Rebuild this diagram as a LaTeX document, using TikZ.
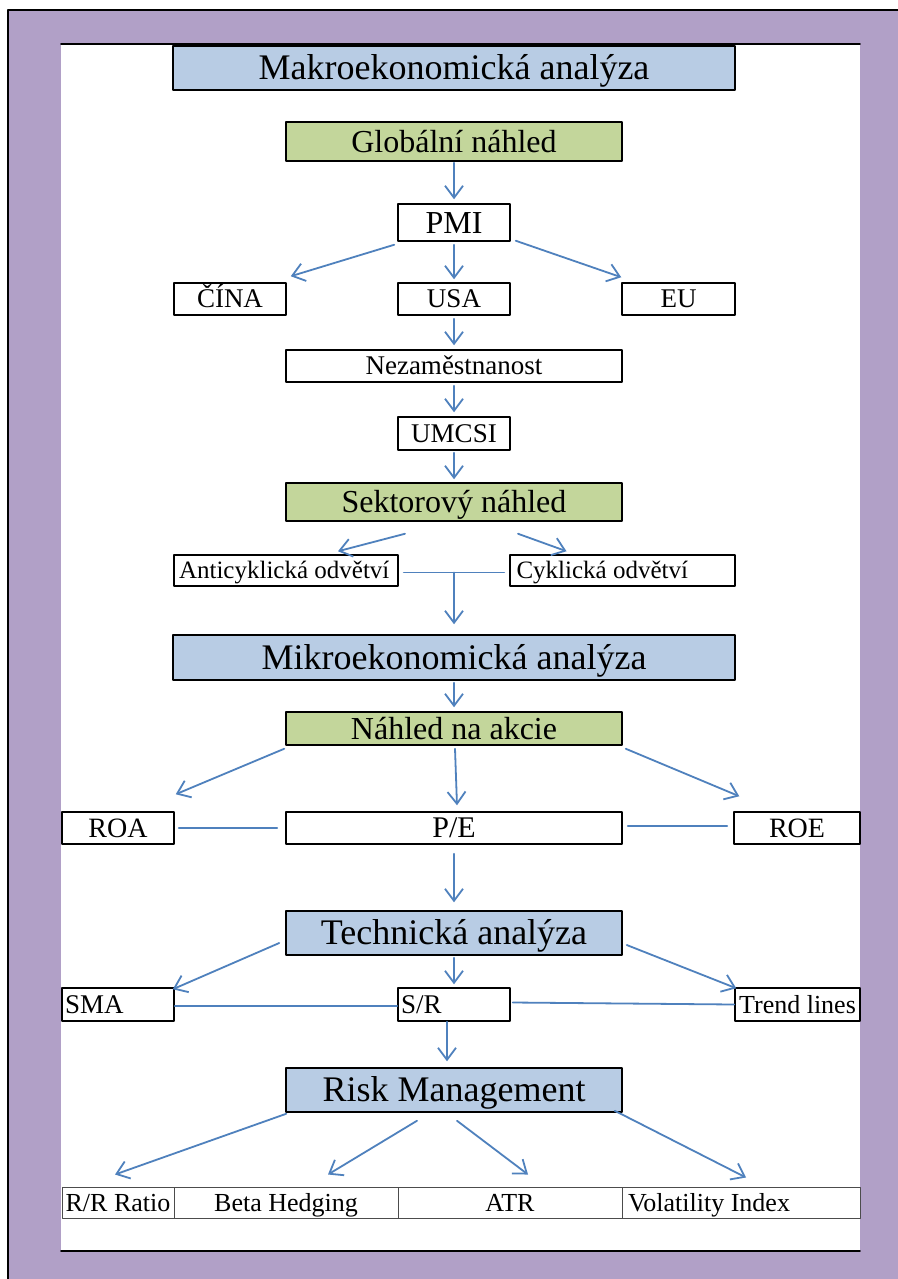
\documentclass[tikz,border=0pt]{standalone}
\usepackage{fontspec}
\setmainfont{Liberation Serif}
\usetikzlibrary{arrows.meta,calc}
\definecolor{framepurple}{HTML}{B1A0C7}
\definecolor{headblue}{HTML}{B8CCE4}
\definecolor{subgreen}{HTML}{C3D69B}
\definecolor{linkblue}{HTML}{4F81BD}

\begin{document}
\begin{tikzpicture}[x=0.5pt,y=-0.5pt,line cap=round,line join=round,
  box/.style={draw=black,line width=.75pt,inner sep=0pt,fill=white,text depth=0pt,
    font=\fontsize{13.5}{16}\selectfont,text height=8.9pt},
  headbox/.style={box,fill=headblue,font=\fontsize{18}{21}\selectfont,text height=11.9pt},
  subbox/.style={box,fill=subgreen,font=\fontsize{16}{19}\selectfont,text height=10.6pt},
  cell/.style={draw=black!70,line width=.5pt,inner sep=0pt,text depth=0pt,
    font=\fontsize{13}{15}\selectfont,text height=8.6pt},
  link/.style={draw=linkblue,line width=.9pt,-{Straight Barb[length=6pt,width=9pt]}},
  tie/.style={draw=linkblue,line width=.9pt}]
\path[use as bounding box] (0,0) rectangle (898,1279);
% page frame
\fill[framepurple] (8,10) rectangle (898,1279);
\draw[black,line width=.75pt] (8,1279) -- (8,10) -- (898,10);
\fill[white] (61,44) rectangle (860,1251);
\draw[black,line width=.9pt] (61,44) -- (860,44);
\draw[black,line width=.9pt] (61,1251) -- (860,1251);
% macro part
\node[headbox,minimum width=281pt,minimum height=22pt] (makro) at (454,68) {Makroekonomická analýza};
\node[subbox,minimum width=168pt,minimum height=19.5pt] (glob) at (454,141.5) {Globální náhled};
\node[box,font=\fontsize{16}{19}\selectfont,text height=10.6pt,minimum width=56pt,minimum height=18.5pt] (pmi) at (454,222.5) {PMI};
\node[box,minimum width=56pt,minimum height=16pt] (cina) at (230,299) {ČÍNA};
\node[box,minimum width=56pt,minimum height=16pt] (usa) at (454,299) {USA};
\node[box,minimum width=56.5pt,minimum height=16pt] (eu) at (678.5,299) {EU};
\node[box,minimum width=168pt,minimum height=16pt] (nezam) at (454,366) {Nezaměstnanost};
\node[box,minimum width=56pt,minimum height=16.5pt] (umcsi) at (454,433.5) {UMCSI};
\node[subbox,minimum width=168pt,minimum height=19pt] (sektor) at (454,502) {Sektorový náhled};
\node[box,font=\fontsize{12.5}{15}\selectfont,text height=8.3pt,minimum width=112pt,minimum height=15.5pt] (anti) at (286,570.5) {\makebox[107pt][l]{Anticyklická odvětví}};
\node[box,font=\fontsize{12.5}{15}\selectfont,text height=8.3pt,minimum width=112.5pt,minimum height=15.5pt] (cykl) at (622.5,570.5) {\makebox[106pt][l]{Cyklická odvětví}};
% micro part
\node[headbox,minimum width=281pt,minimum height=22.5pt] (mikro) at (454,657.5) {Mikroekonomická analýza};
\node[subbox,minimum width=168pt,minimum height=16.5pt] (nahled) at (454,728.5) {Náhled na akcie};
\node[box,font=\fontsize{14}{16}\selectfont,text height=9.2pt,minimum width=56pt,minimum height=16pt] (roa) at (118,828) {ROA};
\node[box,font=\fontsize{15}{17}\selectfont,text height=9.9pt,minimum width=168pt,minimum height=16pt] (pe) at (454,828) {P/E};
\node[box,font=\fontsize{14}{16}\selectfont,text height=9.2pt,minimum width=63pt,minimum height=16pt] (roe) at (797,828) {ROE};
% technical part
\node[headbox,minimum width=168pt,minimum height=22pt] (tech) at (454,933) {Technická analýza};
\node[box,minimum width=56pt,minimum height=16.5pt] (sma) at (118,1004.5) {\makebox[53pt][l]{SMA}};
\node[box,minimum width=56pt,minimum height=16.5pt] (sr) at (454,1004.5) {\makebox[53pt][l]{S/R}};
\node[box,font=\fontsize{13}{15}\selectfont,text height=8.6pt,minimum width=62.5pt,minimum height=16.5pt] (trend) at (797.5,1004.5) {Trend lines};
% risk part
\node[headbox,minimum width=168pt,minimum height=22pt] (risk) at (454,1090) {Risk Management};
\node[cell,minimum width=56pt,minimum height=15.5pt] (rr) at (118,1202.5) {R/R Ratio};
\node[cell,minimum width=112pt,minimum height=15.5pt] (beta) at (286,1202.5) {Beta Hedging};
\node[cell,minimum width=112pt,minimum height=15.5pt] (atr) at (510,1202.5) {ATR};
\node[cell,minimum width=119pt,minimum height=15.5pt] (vol) at (741,1202.5) {\makebox[113pt][l]{Volatility Index}};
% connectors
\draw[link,shorten <=.5pt,shorten >=2pt] (glob.south) -- (pmi.north);
\draw[link] ($(pmi.south west)+(-3,3)$) -- ($(cina.north east)+(4,-6)$);
\draw[link,shorten <=1.5pt,shorten >=1.5pt] (pmi.south) -- (usa.north);
\draw[link] ($(pmi.south east)+(5,-1)$) -- ($(eu.north west)+(0,-5)$);
\draw[link,shorten <=1.5pt,shorten >=2pt] (usa.south) -- (nezam.north);
\draw[link,shorten <=1.5pt,shorten >=2pt] (nezam.south) -- (umcsi.north);
\draw[link,shorten <=1pt,shorten >=1.5pt] (umcsi.south) -- (sektor.north);
\draw[link] ($(sektor.south)+(-49,12)$) -- ($(anti.north)+(52,-3)$);
\draw[link] ($(sektor.south)+(64,12)$) -- ($(cykl.north)+(-56,-3)$);
\draw[tie] ($(anti.east)+(5,2)$) -- ($(cykl.west)+(-5,2)$);
\coordinate (split) at ($(anti.east)!0.5!(cykl.west)+(0,2)$);
\draw[link,shorten >=5pt] (split) -- (split |- mikro.north);
\draw[link,shorten <=1pt,shorten >=2pt] (mikro.south) -- (nahled.north);
\draw[link] ($(nahled.south west)+(-1,3)$) -- ($(roa.north east)+(1,-17)$);
\draw[link] ($(nahled.south)+(1,3)$) -- ($(pe.north)+(3,-6)$);
\draw[link] ($(nahled.south east)+(3,3)$) -- ($(roe.north west)+(6,-15)$);
\draw[tie] ($(roa.east)+(4,0)$) -- ($(pe.west)+(-8,0)$);
\draw[tie] ($(pe.east)+(5,-2)$) -- ($(roe.west)+(-6,-2)$);
\draw[link,shorten <=4.5pt,shorten >=4pt] (pe.south) -- (tech.north);
\draw[link] ($(tech.west)+(-6,10)$) -- ($(sma.north east)+(-2,2)$);
\draw[link,shorten <=1pt,shorten >=1.5pt] (tech.south) -- (sr.north);
\draw[link] ($(tech.east)+(4,12)$) -- ($(trend.north west)+(2,1)$);
\draw[tie] ($(sma.east)+(0,1.5)$) -- ($(sr.west)+(0,1.5)$);
\draw[tie] ($(sr.east)+(2,-2)$) -- (trend.west);
\draw[link] ($(sr.south)+(-7,0)$) -- ($(risk.north)+(-7,-6)$);
\draw[link] ($(risk.south west)+(1,1)$) -- ($(rr.north)+(-3,-12)$);
\draw[link] ($(risk.south)+(-37,8)$) -- ($(beta.north)+(42,-12)$);
\draw[link] ($(risk.south)+(3,8)$) -- ($(atr.north)+(18,-12)$);
\draw[link] ($(risk.south east)+(-8,-2)$) -- ($(vol.north)+(5,-9)$);
\end{tikzpicture}
\end{document}
